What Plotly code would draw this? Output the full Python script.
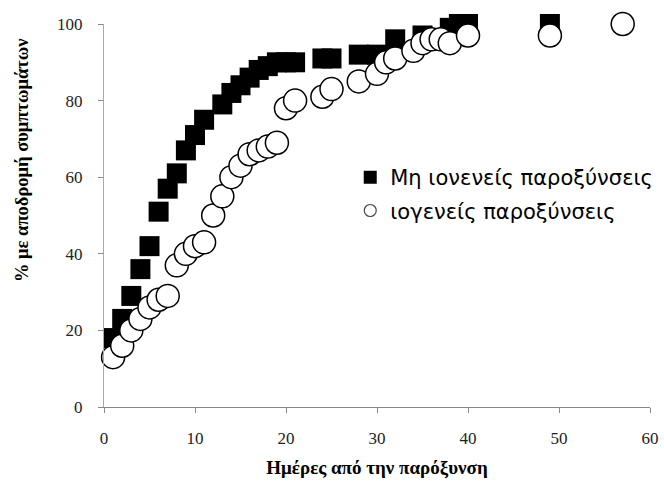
import plotly.graph_objects as go

# Days since exacerbation and cumulative % with symptom resolution
days_nonviral = [1, 2, 3, 4, 5, 6, 7, 8, 9, 10, 11, 13, 14, 15, 16, 17, 18, 19, 20, 21,
                 24, 25, 28, 30, 32, 35, 38, 39, 40, 49]
pct_nonviral = [18, 23, 29, 36, 42, 51, 57, 61, 67, 71, 75, 79, 82, 84, 86, 88, 89, 90, 90, 90,
                91, 91, 92, 92, 96, 97, 99, 100, 100, 100]

days_viral = [1, 2, 3, 4, 5, 6, 7, 8, 9, 10, 11, 12, 13, 14, 15, 16, 17, 18, 19, 20, 21,
              24, 25, 28, 30, 31, 32, 34, 35, 36, 37, 38, 40, 49, 57]
pct_viral = [13, 16, 20, 23, 26, 28, 29, 37, 40, 42, 43, 50, 55, 60, 63, 66, 67, 68, 69, 78, 80,
             81, 83, 85, 87, 90, 91, 93, 95, 96, 96, 95, 97, 97, 100]

name_nonviral = "Μη ιονενείς παροξύνσεις"
name_viral = "ιογενείς παροξύνσεις"

x_ticks = [0, 10, 20, 30, 40, 50, 60]
y_ticks = [0, 20, 40, 60, 80, 100]

serif = "Liberation Serif, Times New Roman, serif"
sans = "DejaVu Sans, Verdana, sans-serif"

fig = go.Figure()

# Data series (legend shown by the small key-only traces below)
fig.add_trace(go.Scatter(
    x=days_nonviral, y=pct_nonviral, mode="markers", showlegend=False,
    marker=dict(symbol="square", size=20, color="black", line=dict(width=0)),
    cliponaxis=False,
))
fig.add_trace(go.Scatter(
    x=days_viral, y=pct_viral, mode="markers", showlegend=False,
    marker=dict(symbol="circle", size=23, color="white", line=dict(width=1.5, color="black")),
    cliponaxis=False,
))

# Legend keys
fig.add_trace(go.Scatter(
    x=[None], y=[None], mode="markers", name=name_nonviral, legendgroup="a",
    marker=dict(symbol="square", size=13, color="black"),
))
fig.add_trace(go.Scatter(
    x=[None], y=[None], mode="markers", name=name_viral, legendgroup="b",
    marker=dict(symbol="circle", size=12, color="white", line=dict(width=1.2, color="#444")),
))

fig.update_layout(
    width=664, height=497,
    margin=dict(l=104, r=14, t=24, b=90, autoexpand=False),
    plot_bgcolor="white", paper_bgcolor="white",
    showlegend=True,
    legend=dict(
        x=0.451, y=0.556, xanchor="left", yanchor="middle",
        font=dict(family=sans, size=21, color="black"),
        bgcolor="rgba(0,0,0,0)", traceorder="grouped", tracegroupgap=3,
        itemwidth=30,
    ),
    xaxis=dict(
        range=[0, 60], tickvals=x_ticks, showgrid=False, zeroline=False,
        showline=True, linecolor="#888", linewidth=1.2,
        ticks="outside", ticklen=5, tickcolor="#888",
        ticklabelstandoff=10,
        tickfont=dict(family=serif, size=17, color="#222"),
        title=dict(text="<b>Ημέρες από την παρόξυνση</b>",
                   font=dict(family=serif, size=19, color="black"), standoff=14),
    ),
    yaxis=dict(
        range=[0, 100], tickvals=y_ticks, showgrid=False, zeroline=False,
        showline=True, linecolor="#aaa", linewidth=1.2,
        ticks="outside", ticklen=5, tickcolor="#888",
        ticklabelstandoff=12,
        tickfont=dict(family=serif, size=17, color="#222"),
    ),
    annotations=[dict(
        text="<b>% με αποδρομή συμπτωμάτων</b>", textangle=-90,
        xref="paper", yref="paper", x=-0.15, y=0.645,
        xanchor="center", yanchor="middle", showarrow=False,
        font=dict(family=serif, size=18.5, color="black"),
    )],
)

fig.write_html("out.html")
